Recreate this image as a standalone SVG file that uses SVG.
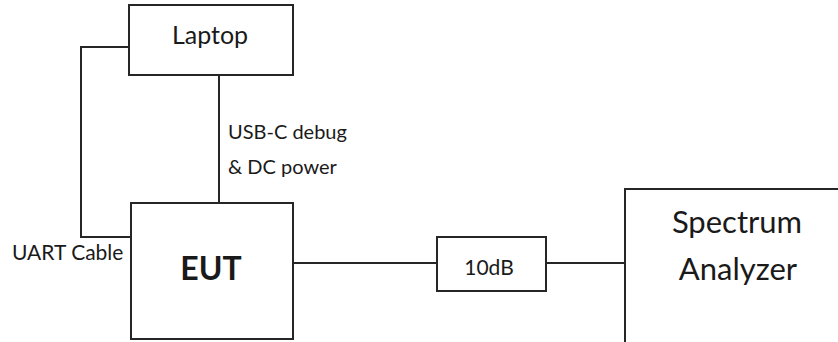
<svg xmlns="http://www.w3.org/2000/svg" width="838" height="342" viewBox="0 0 838 342">
  <style>
    .box { fill: #ffffff; stroke: #262626; stroke-width: 2; }
    .wire { fill: none; stroke: #262626; stroke-width: 2; }
    .lbl { font-family: Lato, "Liberation Sans", sans-serif; fill: #1a1a1a; }
  </style>
  <rect width="838" height="342" fill="#ffffff"/>

  <!-- cabling between the units -->
  <g id="connectors">
    <polyline class="wire" points="129,47 81,47 81,237 131,237"/>
    <line class="wire" x1="219" y1="75" x2="219" y2="203"/>
    <line class="wire" x1="293" y1="263" x2="437" y2="263"/>
    <line class="wire" x1="546" y1="263" x2="625" y2="263"/>
  </g>

  <g id="laptop">
    <rect class="box" x="129" y="5" width="164" height="70"/>
    <text class="lbl" x="210" y="44" font-size="25" text-anchor="middle">Laptop</text>
  </g>

  <g id="usb-label">
    <text class="lbl" x="228" y="139" font-size="20">USB-C debug</text>
    <text class="lbl" x="228" y="174" font-size="20">&amp; DC power</text>
  </g>

  <g id="uart-label">
    <text class="lbl" x="12" y="260" font-size="21">UART Cable</text>
  </g>

  <g id="eut">
    <rect class="box" x="131" y="203" width="162" height="136"/>
    <text class="lbl" x="211" y="280" font-size="32" font-weight="bold" text-anchor="middle">EUT</text>
  </g>

  <g id="attenuator">
    <rect class="box" x="437" y="237" width="109" height="54"/>
    <text class="lbl" x="489" y="275" font-size="21" text-anchor="middle">10dB</text>
  </g>

  <g id="spectrum-analyzer">
    <rect class="box" x="625" y="189" width="260" height="200"/>
    <text class="lbl" x="737" y="233" font-size="31" text-anchor="middle">Spectrum</text>
    <text class="lbl" x="738" y="280" font-size="31" text-anchor="middle">Analyzer</text>
  </g>
</svg>
